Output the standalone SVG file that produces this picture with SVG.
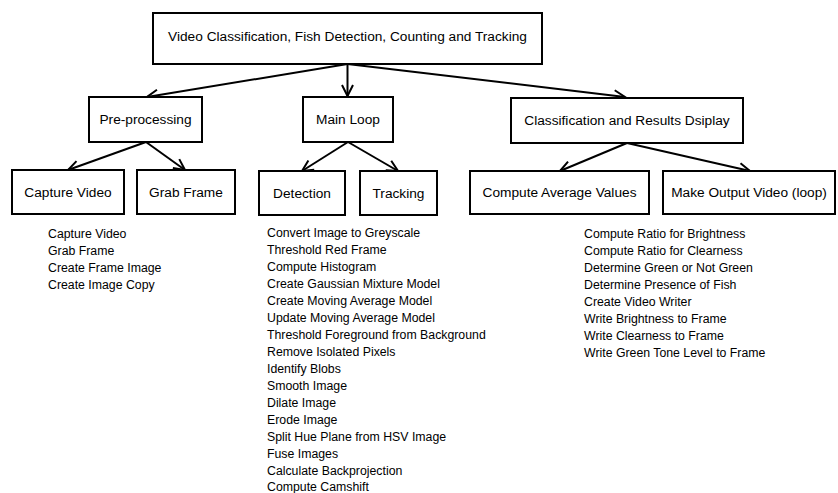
<svg xmlns="http://www.w3.org/2000/svg" width="838" height="493" viewBox="0 0 838 493">
<style>
.box{fill:#fff;stroke:#000;stroke-width:2}
.bt{font-family:"Liberation Sans",Arial,sans-serif;font-size:13.7px;fill:#000;text-anchor:middle}
.lt{font-family:"Liberation Sans",Arial,sans-serif;font-size:12.3px;fill:#000}
.c{stroke:#000;stroke-width:2;fill:none;marker-end:url(#ah)}
</style>
<defs>
<marker id="ah" markerUnits="userSpaceOnUse" markerWidth="14" markerHeight="14" refX="12" refY="6" viewBox="0 0 14 12" orient="auto">
<path d="M1,0.5 L12,6 L1,11.5" fill="none" stroke="#000" stroke-width="2"/>
</marker>
</defs>
<rect width="838" height="493" fill="#fff"/>
<g id="connectors">
<line class="c" x1="347.5" y1="64" x2="147" y2="97"/>
<line class="c" x1="347.5" y1="64" x2="347.5" y2="96"/>
<line class="c" x1="347.5" y1="64" x2="625" y2="97"/>
<line class="c" x1="146" y1="142" x2="68" y2="170"/>
<line class="c" x1="146" y1="142" x2="185" y2="170"/>
<line class="c" x1="348" y1="142" x2="302" y2="171"/>
<line class="c" x1="348" y1="142" x2="398" y2="171"/>
<line class="c" x1="627" y1="143" x2="560" y2="171"/>
<line class="c" x1="627" y1="143" x2="750" y2="171"/>
</g>
<g id="root">
<rect class="box" x="153" y="13" width="389" height="51"/>
<text class="bt" x="347.5" y="41">Video Classification, Fish Detection, Counting and Tracking</text>
</g>
<g id="preprocessing">
<rect class="box" x="89" y="97" width="113" height="45"/>
<text class="bt" x="145.5" y="124">Pre-processing</text>
</g>
<g id="mainloop">
<rect class="box" x="303" y="97" width="90" height="45"/>
<text class="bt" x="348" y="124">Main Loop</text>
</g>
<g id="classification">
<rect class="box" x="511" y="98" width="232" height="45"/>
<text class="bt" x="627" y="125">Classification and Results Dsiplay</text>
</g>
<g id="capturevideo">
<rect class="box" x="12" y="170" width="112" height="44"/>
<text class="bt" x="68" y="196.5">Capture Video</text>
</g>
<g id="grabframe">
<rect class="box" x="137" y="170" width="98" height="44"/>
<text class="bt" x="186" y="196.5">Grab Frame</text>
</g>
<g id="detection">
<rect class="box" x="259" y="171" width="86" height="44"/>
<text class="bt" x="302" y="197.5">Detection</text>
</g>
<g id="tracking">
<rect class="box" x="360" y="171" width="77" height="44"/>
<text class="bt" x="398.5" y="197.5">Tracking</text>
</g>
<g id="computeaverage">
<rect class="box" x="470" y="171" width="179" height="43"/>
<text class="bt" x="559.5" y="197">Compute Average Values</text>
</g>
<g id="makeoutput">
<rect class="box" x="663" y="171" width="172" height="43"/>
<text class="bt" x="749" y="197">Make Output Video (loop)</text>
</g>
<g id="prelist">
<text class="lt" x="48" y="237.5">Capture Video</text>
<text class="lt" x="48" y="254.5">Grab Frame</text>
<text class="lt" x="48" y="271.5">Create Frame Image</text>
<text class="lt" x="48" y="288.5">Create Image Copy</text>
</g>
<g id="detlist">
<text class="lt" x="267" y="236.5">Convert Image to Greyscale</text>
<text class="lt" x="267" y="253.5">Threshold Red Frame</text>
<text class="lt" x="267" y="270.5">Compute Histogram</text>
<text class="lt" x="267" y="287.5">Create Gaussian Mixture Model</text>
<text class="lt" x="267" y="304.5">Create Moving Average Model</text>
<text class="lt" x="267" y="321.5">Update Moving Average Model</text>
<text class="lt" x="267" y="338.5">Threshold Foreground from Background</text>
<text class="lt" x="267" y="355.5">Remove Isolated Pixels</text>
<text class="lt" x="267" y="372.5">Identify Blobs</text>
<text class="lt" x="267" y="389.5">Smooth Image</text>
<text class="lt" x="267" y="406.5">Dilate Image</text>
<text class="lt" x="267" y="423.5">Erode Image</text>
<text class="lt" x="267" y="440.5">Split Hue Plane from HSV Image</text>
<text class="lt" x="267" y="457.5">Fuse Images</text>
<text class="lt" x="267" y="474.5">Calculate Backprojection</text>
<text class="lt" x="267" y="491">Compute Camshift</text>
</g>
<g id="classlist">
<text class="lt" x="584" y="237.5">Compute Ratio for Brightness</text>
<text class="lt" x="584" y="254.5">Compute Ratio for Clearness</text>
<text class="lt" x="584" y="271.5">Determine Green or Not Green</text>
<text class="lt" x="584" y="288.5">Determine Presence of Fish</text>
<text class="lt" x="584" y="305.5">Create Video Writer</text>
<text class="lt" x="584" y="322.5">Write Brightness to Frame</text>
<text class="lt" x="584" y="339.5">Write Clearness to Frame</text>
<text class="lt" x="584" y="356.5">Write Green Tone Level to Frame</text>
</g>
</svg>
